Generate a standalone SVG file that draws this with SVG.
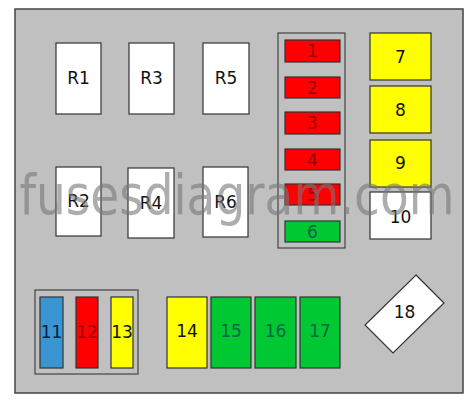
<svg xmlns="http://www.w3.org/2000/svg" width="474" height="400" viewBox="0 0 474 400">
<style>
.b{stroke:#333;stroke-width:1.2}
.w{fill:#fff}.r{fill:#f00}.y{fill:#ff0}.g{fill:#00c832}.bl{fill:#3a96d2}
text{font-family:"DejaVu Sans","Liberation Sans",sans-serif;font-size:17px;text-anchor:middle;dominant-baseline:central}
.tk{fill:#111}.tr{fill:#900}.tg{fill:#064}.tb{fill:#024}
</style>
<rect x="0" y="0" width="474" height="400" fill="#fff"/>
<rect x="15" y="9" width="448" height="384" fill="#c0c0c0" stroke="#444" stroke-width="1.5"/>
<g id="relays">
<g id="R1"><rect class="b w" x="56" y="43" width="45" height="71"/><text class="tk" x="78.5" y="78">R1</text></g>
<g id="R3"><rect class="b w" x="129" y="43" width="45" height="71"/><text class="tk" x="151.5" y="78">R3</text></g>
<g id="R5"><rect class="b w" x="203" y="43" width="46" height="71"/><text class="tk" x="226" y="78">R5</text></g>
<g id="R2"><rect class="b w" x="56" y="167" width="45" height="69"/><text class="tk" x="78.5" y="201">R2</text></g>
<g id="R4"><rect class="b w" x="128" y="168" width="46" height="70"/><text class="tk" x="151" y="203">R4</text></g>
<g id="R6"><rect class="b w" x="203" y="167" width="45" height="70"/><text class="tk" x="225.5" y="202">R6</text></g>
</g>
<g id="strip">
<rect x="278" y="33" width="67" height="215" fill="#c0c0c0" stroke="#444" stroke-width="1.2"/>
<g id="F1"><rect class="b r" x="285" y="40" width="55" height="22"/><text class="tr" x="312.5" y="51">1</text></g>
<g id="F2"><rect class="b r" x="285" y="77" width="55" height="21"/><text class="tr" x="312.5" y="87.5">2</text></g>
<g id="F3"><rect class="b r" x="285" y="112" width="55" height="22"/><text class="tr" x="312.5" y="123">3</text></g>
<g id="F4"><rect class="b r" x="285" y="149" width="55" height="21"/><text class="tr" x="312.5" y="159.5">4</text></g>
<g id="F5"><rect class="b r" x="285" y="184" width="55" height="21"/><text class="tr" x="312.5" y="194.5">5</text></g>
<g id="F6"><rect class="b g" x="285" y="221" width="55" height="21"/><text class="tg" x="312.5" y="231.5">6</text></g>
</g>
<g id="F7"><rect class="b y" x="370" y="33" width="61" height="47"/><text class="tk" x="400.5" y="57">7</text></g>
<g id="F8"><rect class="b y" x="370" y="86" width="61" height="47"/><text class="tk" x="400.5" y="110">8</text></g>
<g id="F9"><rect class="b y" x="370" y="140" width="61" height="47"/><text class="tk" x="400.5" y="163">9</text></g>
<g id="F10"><rect class="b w" x="370" y="192" width="61" height="47"/><text class="tk" x="400.5" y="217">10</text></g>
<g id="group11">
<rect x="35" y="290" width="103" height="84" fill="#c0c0c0" stroke="#444" stroke-width="1.2"/>
<g id="F11"><rect class="b bl" x="40" y="297" width="23" height="71"/><text class="tb" x="51.5" y="332">11</text></g>
<g id="F12"><rect class="b r" x="76" y="297" width="22" height="71"/><text class="tr" x="87" y="332">12</text></g>
<g id="F13"><rect class="b y" x="111" y="297" width="22" height="71"/><text class="tk" x="122" y="332">13</text></g>
</g>
<g id="F14"><rect class="b y" x="167" y="297" width="40" height="71"/><text class="tk" x="187" y="331">14</text></g>
<g id="F15"><rect class="b g" x="211" y="297" width="40" height="71"/><text class="tg" x="231" y="331">15</text></g>
<g id="F16"><rect class="b g" x="255" y="297" width="41" height="71"/><text class="tg" x="275.5" y="331">16</text></g>
<g id="F17"><rect class="b g" x="300" y="297" width="40" height="71"/><text class="tg" x="320" y="331">17</text></g>
<g id="F18"><polygon class="b w" points="416,275 444,303 393,353 365,325"/><text class="tk" x="404.5" y="312">18</text></g>
<text x="237" y="214" style="font-size:56px;dominant-baseline:auto;fill:#777;opacity:0.6" textLength="435" lengthAdjust="spacingAndGlyphs">fusesdiagram.com</text>
</svg>
